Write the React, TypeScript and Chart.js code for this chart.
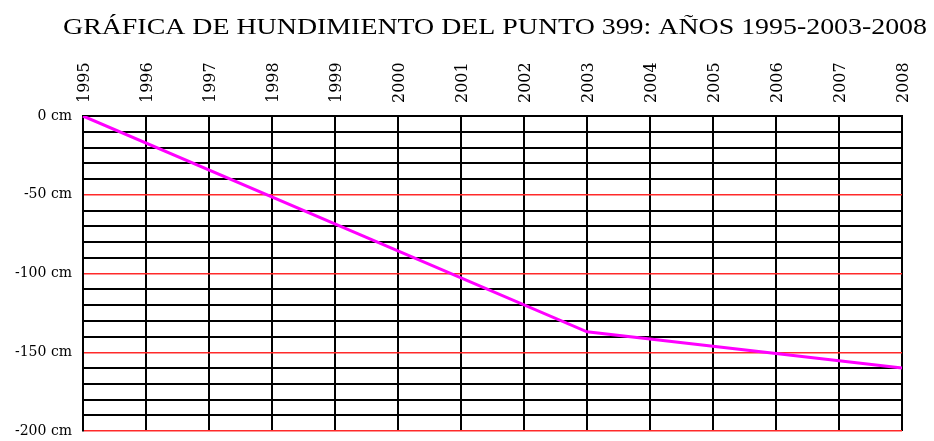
import React, { useEffect, useRef } from "react";
import { Chart, registerables } from "chart.js";

Chart.register(...registerables);

const TITLE = "GRÁFICA DE HUNDIMIENTO DEL PUNTO 399: AÑOS 1995-2003-2008";
const years = ["1995", "1996", "1997", "1998", "1999", "2000", "2001", "2002", "2003", "2004", "2005", "2006", "2007", "2008"];
// measured subsidence (cm); only the surveyed years carry a value
const subsidence: (number | null)[] = [0, null, null, null, null, null, null, null, -137, null, null, null, null, -160];
const yMin = -200;
const yMax = 0;
const yStep = 10;
const labelEvery = 50;

// Wide-stretched title, like the reference (drawn as canvas text)
const stretchedTitle = {
  id: "stretchedTitle",
  afterDraw(chart: any, _args: any, opts: any) {
    const ctx = chart.ctx;
    ctx.save();
    ctx.font = `${opts.size}px ${opts.family}`;
    ctx.fillStyle = opts.color;
    ctx.textBaseline = "alphabetic";
    ctx.textAlign = "left";
    const w = ctx.measureText(opts.text).width;
    const sx = opts.width / w;
    ctx.translate(opts.x, opts.baseline);
    ctx.scale(sx, 1);
    ctx.fillText(opts.text, 0, 0);
    ctx.restore();
  },
};

export default function App() {
  const ref = useRef<HTMLCanvasElement | null>(null);

  useEffect(() => {
    document.body.style.margin = "0";
    const canvas = ref.current;
    if (!canvas) return;
    const chart = new Chart(canvas, {
      type: "line",
      data: {
        labels: years,
        datasets: [
          {
            data: subsidence,
            borderColor: "#FF00FF",
            borderWidth: 3,
            pointRadius: 0,
            spanGaps: true,
            tension: 0,
          },
        ],
      },
      plugins: [stretchedTitle],
      options: {
        animation: false,
        responsive: false,
        maintainAspectRatio: false,
        layout: { padding: { left: 0, right: 32, top: 0, bottom: 10 } },
        plugins: {
          legend: { display: false },
          tooltip: { enabled: false },
          title: { display: false },
          stretchedTitle: {
            text: TITLE,
            family: "'Liberation Serif', serif",
            size: 24,
            color: "#000",
            x: 63,
            baseline: 34,
            width: 864,
          },
        } as any,
        scales: {
          x: {
            type: "category",
            position: "top",
            offset: false,
            grid: {
              offset: false,
              color: "#000",
              lineWidth: 2,
              drawTicks: false,
            },
            border: { display: true, color: "#000", width: 2 },
            ticks: {
              autoSkip: false,
              maxRotation: 90,
              minRotation: 90,
              padding: 13,
              labelOffset: 21,
              color: "#000",
              font: { family: "'DejaVu Serif', serif", size: 16 },
            },
            afterFit: (scale: any) => {
              scale.height = 116;
            },
          },
          y: {
            type: "linear",
            min: yMin,
            max: yMax,
            grid: {
              color: (ctx: any) => {
                const v = ctx.tick ? ctx.tick.value : 0;
                return v !== 0 && v % labelEvery === 0 ? "#FF2A2A" : "#000";
              },
              lineWidth: (ctx: any) => {
                const v = ctx.tick ? ctx.tick.value : 0;
                return v !== 0 && v % labelEvery === 0 ? 1.5 : 2;
              },
              drawTicks: false,
            },
            border: { display: true, color: "#000", width: 2 },
            ticks: {
              stepSize: yStep,
              autoSkip: false,
              padding: 11,
              color: "#000",
              font: { family: "'DejaVu Serif', serif", size: 14 },
              callback: (value: any) => (Number(value) % labelEvery === 0 ? `${value} cm` : ""),
            },
            afterFit: (scale: any) => {
              scale.width = 83;
              scale.paddingTop = 0;
              scale.paddingBottom = 0;
            },
          },
        },
      },
    });
    return () => chart.destroy();
  }, []);

  return (
    <div style={{ width: 934, height: 441, background: "#fff" }}>
      <canvas ref={ref} width={934} height={441} style={{ display: "block" }} />
    </div>
  );
}
